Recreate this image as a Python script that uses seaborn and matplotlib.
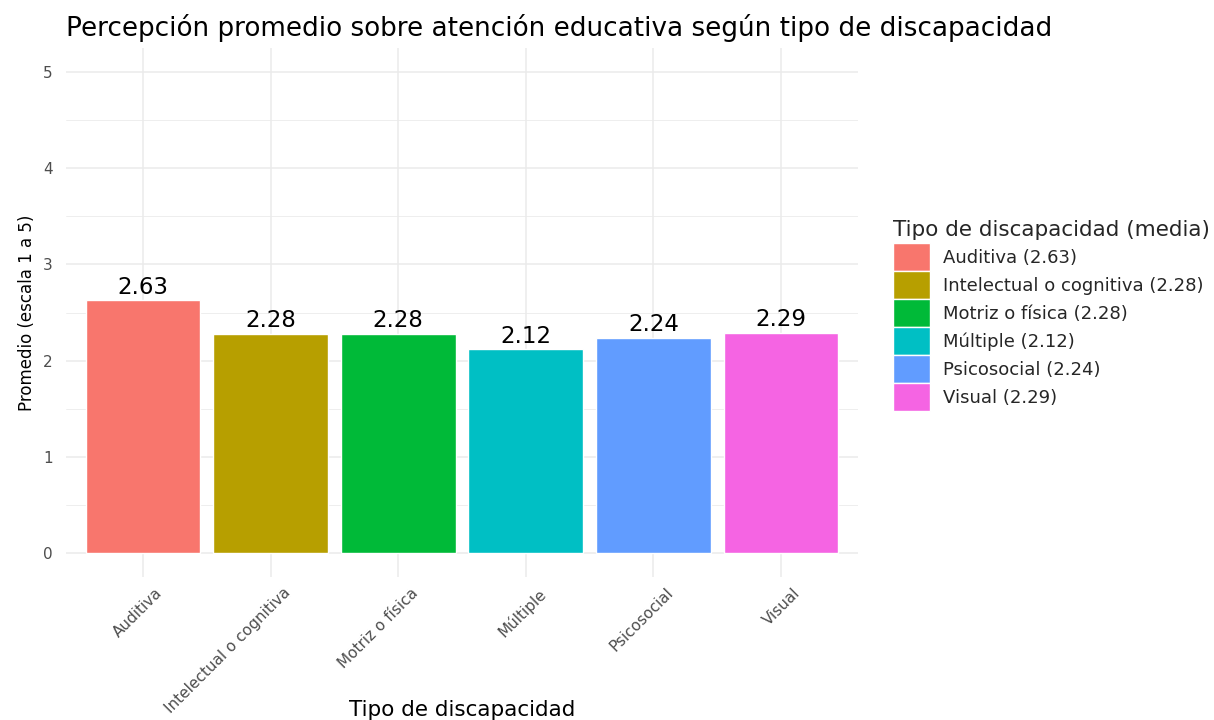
import matplotlib
matplotlib.use("Agg")
import matplotlib.pyplot as plt
import matplotlib.transforms as mtransforms
import seaborn as sns
import pandas as pd
from matplotlib.patches import Patch

categorias = ["Auditiva", "Intelectual o cognitiva", "Motriz o física", "Múltiple", "Psicosocial", "Visual"]
promedios = [2.63, 2.28, 2.28, 2.12, 2.24, 2.29]
colores = ["#F8766D", "#B79F00", "#00BA38", "#00BFC4", "#619CFF", "#F564E3"]
yticks = [0, 1, 2, 3, 4, 5]

df = pd.DataFrame({"tipo": categorias, "media": promedios})

sns.set_theme(style="white")
plt.rcParams["font.family"] = ["DejaVu Sans"]

fig = plt.figure(figsize=(12.14, 7.2), dpi=100)
ax = fig.add_axes([0.0547, 0.1986, 0.6517, 0.7347])

sns.barplot(data=df, x="tipo", y="media", hue="tipo", palette=colores,
            dodge=False, legend=False, width=0.9, ax=ax, saturation=1)

ax.set_xlim(-0.6, len(categorias) - 0.4)
ax.set_ylim(-0.25, 5.25)
ax.set_yticks(yticks)
ax.set_yticks([0.5, 1.5, 2.5, 3.5, 4.5], minor=True)
ax.grid(True, which="major", axis="both", color="#EBEBEB", linewidth=1.1)
ax.grid(True, which="minor", axis="y", color="#EBEBEB", linewidth=0.6)
ax.set_axisbelow(True)
for s in ax.spines.values():
    s.set_visible(False)
ax.tick_params(axis="both", which="both", length=0, colors="#4D4D4D", labelsize=11)
ax.tick_params(axis="y", pad=10)
ax.set_xticks(range(len(categorias)))
ax.set_xticklabels(categorias, rotation=45, ha="right", va="top", rotation_mode="anchor")
ax.tick_params(axis="x", pad=6)
offset = mtransforms.ScaledTranslation(12 / 100, 0, fig.dpi_scale_trans)
for lbl in ax.get_xticklabels():
    lbl.set_transform(lbl.get_transform() + offset)

for i, v in enumerate(promedios):
    ax.annotate(f"{v:.2f}", (i, v), xytext=(0, 1), textcoords="offset points",
                ha="center", va="bottom", fontsize=16.5, color="black")

ax.set_xlabel("Tipo de discapacidad", fontsize=15.5, color="black")
ax.xaxis.set_label_coords(0.5, -0.251)
ax.xaxis.label.set_va("center")
ax.set_ylabel("Promedio (escala 1 a 5)", fontsize=12, color="black", labelpad=5)
fig.text(0.0547, 0.961, "Percepción promedio sobre atención educativa según tipo de discapacidad",
         fontsize=18.9, color="black", ha="left", va="center")

handles = [Patch(facecolor=c, edgecolor="white", linewidth=1.0, label=f"{n} ({v:.2f})")
           for n, v, c in zip(categorias, promedios, colores)]
leg = fig.legend(handles=handles, title="Tipo de discapacidad (media)", loc="upper left",
                 bbox_to_anchor=(0.7357, 0.6944), frameon=False, fontsize=13,
                 title_fontsize=15.5, handlelength=2.05, handleheight=2.01,
                 handletextpad=0.72, labelspacing=0.0, borderaxespad=0, borderpad=0)
leg._legend_box.align = "left"
leg._legend_box.sep = 2

fig.savefig("out.png", dpi=100, facecolor="white")
